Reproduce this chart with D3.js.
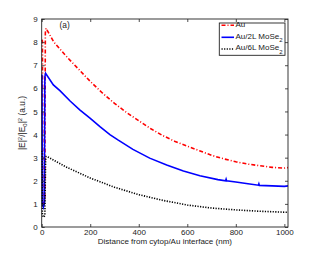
<!DOCTYPE html>
<html><head><meta charset="utf-8">
<script src="https://cdn.jsdelivr.net/npm/d3@7"></script>
<style>body{margin:0;background:#fff}svg text{font-family:"Liberation Sans",Arial,sans-serif}</style>
</head><body><svg id="c" width="319" height="256"></svg>
<script>
const xTicks = [0,200,400,600,800,1000];
const yTicks = [0,1,2,3,4,5,6,7,8,9];
const auX = [0,3,5,9,13,15,18,50,100,150,200,250,300,350,400,450,500,550,600,650,700,750,800,850,900,950,1000,1015];
const auY = [8.1,8.05,1.2,1.0,1.2,8.4,8.6,8.0,7.4,6.85,6.3,5.8,5.35,4.95,4.6,4.25,3.95,3.7,3.5,3.3,3.1,2.95,2.82,2.72,2.65,2.58,2.55,2.57];
const mo2X = [0,1,3,7,11,13,16,48,75,117,158,199,240,281,314,376,445,515,584,652,726,758,760,762,800,850,893,895,897,950,1000,1015];
const mo2Y = [6.6,6.55,1.0,0.85,1.0,6.5,6.65,6.15,5.9,5.45,5.06,4.71,4.34,4.0,3.77,3.36,2.98,2.68,2.42,2.22,2.05,2.0,2.07,2.0,1.95,1.87,1.81,1.87,1.80,1.78,1.76,1.78];
const mo6X = [0,1,3,8,13,16,18,22,100,200,300,400,500,600,700,800,900,1000,1015];
const mo6Y = [3.3,3.2,0.5,0.42,0.5,2.9,3.05,3.05,2.6,2.12,1.72,1.40,1.15,0.95,0.82,0.74,0.68,0.64,0.64];
const seriesNames = ["Au","Au/2L MoSe","Au/6L MoSe"];
const seriesSubs = ["","2","2"];

const svg = d3.select("#c");
const x = d3.scaleLinear().domain([0,1015]).range([41.7,288]);
const y = d3.scaleLinear().domain([0,9]).range([227,19]);
const L=41.7,R=288,T=19,B=227;

const series = [
  {xs:auX, ys:auY, color:"#ff0000", dash:"4,2,1,2", w:1.6},
  {xs:mo2X, ys:mo2Y, color:"#0000ff", dash:null, w:1.6},
  {xs:mo6X, ys:mo6Y, color:"#000000", dash:"1.2,1.4", w:1.6}
];
const line = d3.line().x(d=>x(d[0])).y(d=>y(d[1]));
series.forEach(s=>{
  const pts = s.xs.map((v,i)=>[v,s.ys[i]]);
  svg.append("path").attr("d",line(pts)).attr("fill","none")
    .attr("stroke",s.color).attr("stroke-width",s.w)
    .attr("stroke-dasharray",s.dash);
});

const fs = 8;
const gx = svg.append("g").attr("transform",`translate(0,${B})`)
  .call(d3.axisBottom(x).tickValues(xTicks).tickSizeInner(-3).tickSizeOuter(0).tickPadding(2.2).tickFormat(d3.format("d")));
const gxt = svg.append("g").attr("transform",`translate(0,${T})`)
  .call(d3.axisTop(x).tickValues(xTicks).tickSizeInner(-3).tickSizeOuter(0).tickFormat(""));
const gy = svg.append("g").attr("transform",`translate(${L},0)`)
  .call(d3.axisLeft(y).tickValues(yTicks).tickSizeInner(-3).tickSizeOuter(0).tickPadding(4).tickFormat(d3.format("d")));
const gyr = svg.append("g").attr("transform",`translate(${R},0)`)
  .call(d3.axisRight(y).tickValues(yTicks).tickSizeInner(-3).tickSizeOuter(0).tickFormat(""));
[gx,gxt,gy,gyr].forEach(g=>{
  g.select(".domain").remove();
  g.selectAll("line").attr("stroke","#222").attr("stroke-width",0.8);
  g.selectAll("text").attr("font-size",fs).attr("fill","#222").attr("font-family","Liberation Sans, Arial, sans-serif");
});
svg.append("rect").attr("x",L).attr("y",T).attr("width",R-L).attr("height",B-T)
  .attr("fill","none").attr("stroke","#222").attr("stroke-width",0.9);

svg.append("text").attr("x",(L+R)/2).attr("y",243.5).attr("text-anchor","middle")
  .attr("font-size",8).attr("fill","#222").text("Distance from cytop/Au interface (nm)");

const yl = svg.append("text").attr("transform",`translate(25,${(T+B)/2}) rotate(-90)`)
  .attr("text-anchor","middle").attr("font-size",8.4).attr("fill","#222");
yl.append("tspan").text("|E|");
yl.append("tspan").attr("font-size",6).attr("dy",-3.5).text("2");
yl.append("tspan").attr("dy",3.5).text("/|E");
yl.append("tspan").attr("font-size",6).attr("dy",2).text("0");
yl.append("tspan").attr("dy",-2).text("|");
yl.append("tspan").attr("font-size",6).attr("dy",-3.5).text("2");
yl.append("tspan").attr("dy",3.5).text(" (a.u.)");

svg.append("text").attr("x",59.5).attr("y",27.5).attr("font-size",8.4).attr("fill","#222").text("(a)");

// legend
const lg = svg.append("g");
lg.append("rect").attr("x",219.3).attr("y",23).attr("width",65.7).attr("height",32.3)
  .attr("fill","#fff").attr("stroke","#222").attr("stroke-width",0.9);
const ly = [25.3,37.3,49];
series.forEach((s,i)=>{
  lg.append("line").attr("x1",221.5).attr("x2",234).attr("y1",ly[i]).attr("y2",ly[i])
    .attr("stroke",s.color).attr("stroke-width",s.w).attr("stroke-dasharray",s.dash);
  const t = lg.append("text").attr("x",235.5).attr("y",ly[i]+1.2).attr("font-size",8).attr("fill","#222");
  t.append("tspan").text(seriesNames[i]);
  if(seriesSubs[i]) t.append("tspan").attr("font-size",6).attr("dy",3.5).text(seriesSubs[i]);
});
</script></body></html>
